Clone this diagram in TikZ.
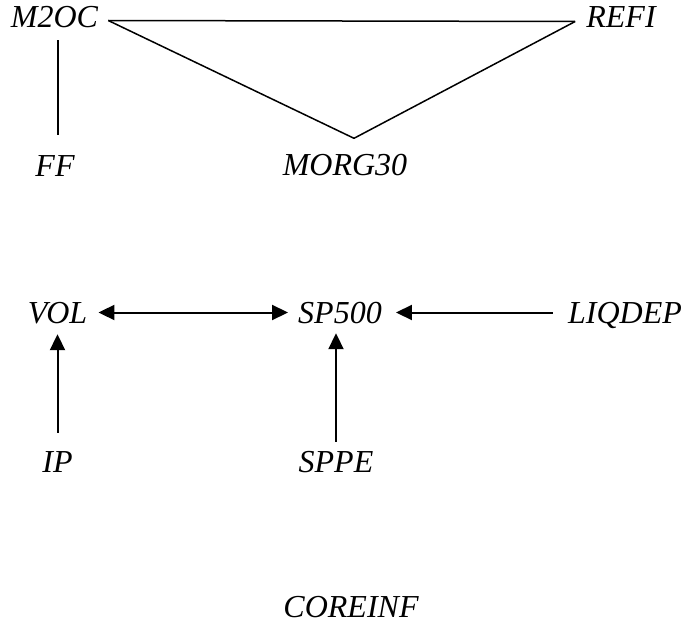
\documentclass[tikz,border=0pt]{standalone}
\usepackage{fontspec}
\setmainfont{Liberation Serif}
\usetikzlibrary{arrows.meta}
\begin{document}
\begin{tikzpicture}[x=1pt,y=-1pt,
  var/.style={inner sep=0pt,text height=21pt,text depth=0pt,
    font=\fontsize{32}{38}\selectfont\itshape},
  link/.style={line width=1.5pt},
  tip/.style={-{Triangle[length=16pt,width=15pt]}},
  dirlink/.style={line width=2pt,tip},
  bilink/.style={line width=2pt,{Triangle[length=16pt,width=15pt]}-{Triangle[length=16pt,width=15pt]}}]
\useasboundingbox (0,0) rectangle (686,626);

% variables
\node[var] (m2oc)  at (54.5,17.5)  {M2OC};
\node[var] (refi)  at (621,17.5)   {REFI};
\node[var] (ff)    at (55,165.5)   {FF};
\node[var] (morg)  at (345,165)    {MORG30};
\node[var] (vol)   at (57.5,312.5) {VOL};
\node[var] (sp)    at (340,312.5)  {SP500};
\node[var] (liq)   at (625,312.5)  {LIQDEP};
\node[var] (ip)    at (57.5,461.5) {IP};
\node[var] (sppe)  at (336,461.5)  {SPPE};
\node[var] (core)  at (351,606.5)  {COREINF};

% meeting points of the upper triangle
\coordinate (a) at ([shift={(10pt,-3pt)}]m2oc.east);
\coordinate (b) at ([shift={(-11pt,-4pt)}]refi.west);
\coordinate (v) at ([shift={(9pt,16pt)}]morg.north);

% undirected links
\draw[link] (a) -- (b);
\draw[link] (a) -- (v);
\draw[link] (b) -- (v);
\draw[link] ([shift={(3.5pt,-12pt)}]m2oc.south) -- ([shift={(3pt,20pt)}]ff.north);

% directed links
\draw[bilink] ([xshift=11pt]vol.east) -- ([xshift=-10pt]sp.west);
\draw[dirlink] ([xshift=-15pt]liq.west) -- ([xshift=14pt]sp.east);
\draw[dirlink] ([yshift=18pt]ip.north) -- ([yshift=-11pt]vol.south);
\draw[dirlink] ([yshift=9pt]sppe.north) -- ([yshift=-10pt]sppe.north |- sp.south);
\end{tikzpicture}
\end{document}
